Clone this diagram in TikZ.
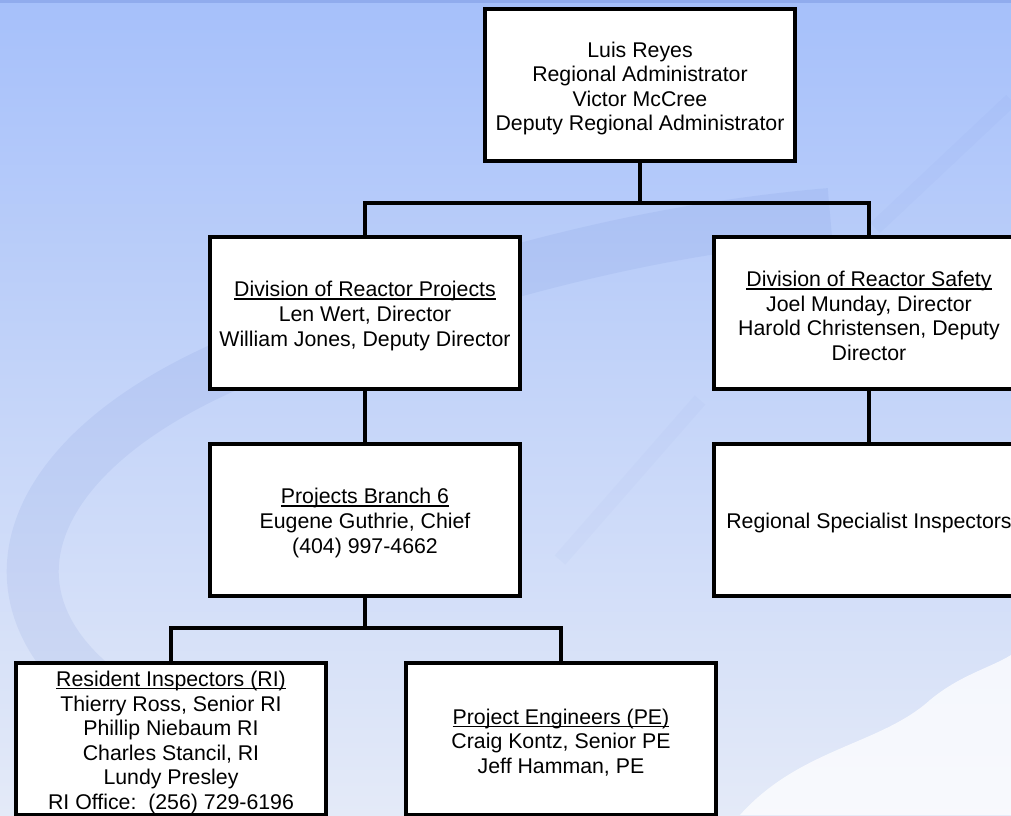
\documentclass[tikz,border=0pt]{standalone}
\usepackage{fontspec}
\setmainfont{Liberation Sans}
\usepackage{tikz}
\definecolor{bgtop}{RGB}{166,192,250}
\definecolor{bgbot}{RGB}{228,234,248}
\definecolor{wmark}{RGB}{80,110,200}
\newcommand{\topstrut}{\rule{0pt}{22.5pt}}
\newcommand{\headline}[1]{\setbox0\hbox{#1}\rlap{\rule[-2.8pt]{\wd0}{1.3pt}}\box0}

\begin{document}
\begin{tikzpicture}[x=1pt,y=-1pt,
        orgbox/.style={draw,line width=4pt,fill=white,outer sep=0pt,inner sep=0pt,
            minimum width=310pt,minimum height=152pt,align=center,
            font=\fontsize{21.3}{24.6}\selectfont},
        conn/.style={draw,line width=4pt}]
            \useasboundingbox (0,0) rectangle (1011,815);
            \clip (0,0) rectangle (1011,815);
            \shade[top color=bgtop,bottom color=bgbot] (0,0) rectangle (1011,815);
            \fill[wmark,opacity=0.25] (0,0) rectangle (1011,3);
            \draw[wmark,opacity=0.09,line width=52pt]
                (120,705) .. controls (-40,600) and (20,430) .. (300,338)
                .. controls (460,285) and (620,232) .. (830,214);
            \draw[wmark,opacity=0.04,line width=14pt] (1011,100) -- (875,228);
            \draw[wmark,opacity=0.03,line width=14pt] (700,400) -- (560,560);
            \fill[white,opacity=0.75]
                (740,815) .. controls (800,748) and (880,745) .. (930,700)
                .. controls (960,675) and (990,668) .. (1011,655) -- (1011,815) -- cycle;
            \node[orgbox] (ra) at (640,85)
                {\topstrut Luis Reyes\\Regional Administrator\\Victor McCree\\Deputy Regional Administrator};
            \node[orgbox] (drp) at (365,312.5)
                {\topstrut\headline{Division of Reactor Projects}\\Len Wert, Director\\William Jones, Deputy Director};
            \node[orgbox] (drs) at (869,312.5)
                {\topstrut\headline{Division of Reactor Safety}\\Joel Munday, Director\\Harold Christensen, Deputy\\Director};
            \node[orgbox] (pb6) at (365,519.5)
                {\topstrut\headline{Projects Branch 6}\\Eugene Guthrie, Chief\\(404) 997-4662};
            \node[orgbox] (rsi) at (869,519.5)
                {\topstrut Regional Specialist Inspectors};
            \node[orgbox] (ri) at (171,739)
                {\topstrut\headline{Resident Inspectors (RI)}\\Thierry Ross, Senior RI\\Phillip Niebaum RI\\Charles Stancil, RI\\Lundy Presley\\RI Office:\ \ (256) 729-6196};
            \node[orgbox] (pe) at (561,739)
                {\topstrut\headline{Project Engineers (PE)}\\Craig Kontz, Senior PE\\Jeff Hamman, PE};
            \draw[conn] (ra.south) -- ++(0,42) coordinate (rabus);
            \draw[conn] (drp.north) |- (rabus) -| (drs.north);
            \draw[conn] (drp.south) -- (pb6.north);
            \draw[conn] (drs.south) -- (rsi.north);
            \draw[conn] (pb6.south) -- ++(0,32.5) coordinate (pbbus);
            \draw[conn] (ri.north) |- (pbbus) -| (pe.north);
        \end{tikzpicture}
\end{document}
